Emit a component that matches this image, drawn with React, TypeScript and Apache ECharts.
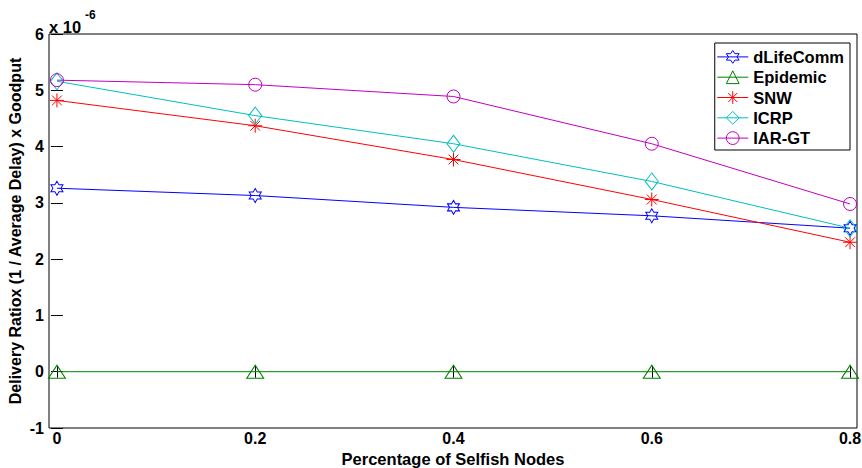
import React, { useEffect, useRef } from "react";
import * as echarts from "echarts";

const selfishFractions = [0, 0.2, 0.4, 0.6, 0.8];
const dLifeComm = [3.26, 3.13, 2.92, 2.77, 2.55];
const epidemic = [0, 0, 0, 0, 0];
const snw = [4.82, 4.37, 3.77, 3.06, 2.3];
const icrp = [5.16, 4.55, 4.05, 3.38, 2.55];
const iarGt = [5.18, 5.1, 4.89, 4.05, 2.98];
const xTickValues = [0, 0.2, 0.4, 0.6, 0.8];
const seriesNames = ["dLifeComm", "Epidemic", "SNW", "ICRP", "IAR-GT"];

const HEXAGRAM =
  "path://M0,-1L0.2887,-0.5L0.866,-0.5L0.5774,0L0.866,0.5L0.2887,0.5L0,1L-0.2887,0.5L-0.866,0.5L-0.5774,0L-0.866,-0.5L-0.2887,-0.5Z";
const TRIANGLE = "path://M0,-1L1,0.6L-1,0.6Z";
const ASTERISK =
  "path://M0,-1L0,1M-1,0L1,0M-0.7,-0.7L0.7,0.7M-0.7,0.7L0.7,-0.7";
const DIAMOND = "path://M0,-1L1,0L0,1L-1,0Z";
const CIRCLE = "path://M1,0A1,1,0,1,1,-1,0A1,1,0,1,1,1,0Z";

const FONT = "Liberation Sans";

export default function App() {
  const ref = useRef<HTMLDivElement>(null);
  useEffect(() => {
    if (!ref.current) return;
    const chart = echarts.init(ref.current, undefined, { renderer: "svg" });
    const pts = (ys: number[]) => selfishFractions.map((x, i) => [x, ys[i]]);
    const defs = [
      { name: seriesNames[0], data: dLifeComm, color: "#0000ff", symbol: HEXAGRAM, size: [12, 14] },
      { name: seriesNames[1], data: epidemic, color: "#008000", symbol: TRIANGLE, size: [17, 13] },
      { name: seriesNames[2], data: snw, color: "#ff0000", symbol: ASTERISK, size: [14, 14] },
      { name: seriesNames[3], data: icrp, color: "#00bfbf", symbol: DIAMOND, size: [13, 17] },
      { name: seriesNames[4], data: iarGt, color: "#bf00bf", symbol: CIRCLE, size: [13, 13] },
    ];
    const series = defs.map((d) => ({
      type: "line",
      name: d.name,
      data: pts(d.data),
      symbol: d.symbol,
      symbolSize: d.size,
      showAllSymbol: true,
      lineStyle: { color: d.color, width: 1 },
      itemStyle: { color: "none", borderColor: d.color, borderWidth: 1 },
      emphasis: { disabled: true },
      z: 3,
    }));
    const tickStyle = { lineStyle: { color: "#000", width: 1 } };
    const boldText = { fontFamily: FONT, fontWeight: "bold", color: "#000" };
    chart.setOption({
      animation: false,
      backgroundColor: "#fff",
      grid: {
        left: 49,
        right: 5,
        top: 34,
        bottom: 40,
        show: true,
        borderColor: "#000",
        borderWidth: 1,
        backgroundColor: "#fff",
        containLabel: false,
        outerBoundsMode: "none",
      },
      legend: {
        orient: "vertical",
        right: 12,
        top: 43,
        itemWidth: 31,
        itemHeight: 16,
        itemGap: 2.5,
        padding: [5, 6, 3, 2],
        borderColor: "#000",
        borderWidth: 1,
        borderRadius: 0,
        backgroundColor: "#fff",
        textStyle: { ...boldText, fontSize: 16.5 },
        data: defs.map((d) => ({
          name: d.name,
          itemStyle: { color: "none", borderColor: d.color, borderWidth: 1 },
          lineStyle: { color: d.color, width: 1 },
        })),
      },
      xAxis: [
        {
          type: "value",
          min: -0.008,
          max: 0.807,
          position: "bottom",
          name: "Percentage of Selfish Nodes",
          nameLocation: "middle",
          nameGap: 20,
          nameTextStyle: { ...boldText, fontSize: 16.5 },
          splitLine: { show: false },
          axisLine: { show: false },
          axisTick: { inside: true, length: 6, customValues: xTickValues, ...tickStyle },
          axisLabel: {
            customValues: xTickValues,
            ...boldText,
            fontSize: 16,
            margin: 2,
            formatter: (v: number) => String(v),
          },
        },
        {
          type: "value",
          min: -0.008,
          max: 0.807,
          position: "top",
          splitLine: { show: false },
          axisLine: { show: false },
          axisTick: { inside: true, length: 6, customValues: xTickValues, ...tickStyle },
          axisLabel: { show: false },
        },
      ],
      yAxis: [
        {
          type: "value",
          min: -1,
          max: 6,
          interval: 1,
          name: "Delivery Ratiox (1 / Average Delay) x Goodput",
          nameLocation: "middle",
          nameGap: 26,
          nameMoveOverlap: false,
          nameTextStyle: { ...boldText, fontSize: 16 },
          splitLine: { show: false },
          axisLine: { show: false },
          axisTick: { inside: true, length: 6, ...tickStyle },
          axisLabel: { ...boldText, fontSize: 16, margin: 5 },
        },
        {
          type: "value",
          min: -1,
          max: 6,
          interval: 1,
          position: "right",
          splitLine: { show: false },
          axisLine: { show: false },
          axisTick: { inside: true, length: 6, ...tickStyle },
          axisLabel: { show: false },
        },
      ],
      graphic: [
        {
          type: "text",
          left: 49,
          top: 18,
          style: { text: "x 10", fontFamily: FONT, fontWeight: "bold", fontSize: 16.5, fill: "#000" },
        },
        {
          type: "text",
          left: 85,
          top: 9,
          style: { text: "-6", fontFamily: FONT, fontWeight: "bold", fontSize: 12, fill: "#000" },
        },
      ],
      series,
    });
    return () => chart.dispose();
  }, []);
  return <div ref={ref} style={{ width: 862, height: 468, position: "absolute", left: 0, top: 0 }} />;
}
